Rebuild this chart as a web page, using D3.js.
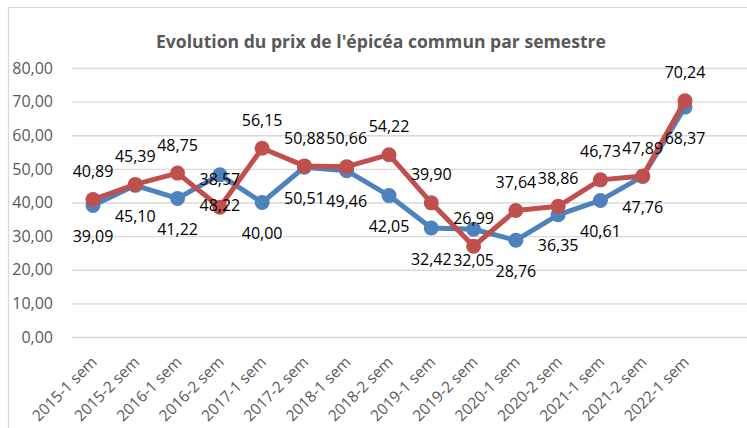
<!DOCTYPE html>
<html>
<head>
<meta charset="utf-8">
<script src="https://cdn.jsdelivr.net/npm/d3@7"></script>
<style>
    body { margin: 0; background: #fff; }
    text { font-family: "Open Sans", sans-serif; }
</style>
</head>
<body>
<div id="chart"></div>
<script>
// data
const categories = ["2015-1 sem", "2015-2 sem", "2016-1 sem", "2016-2 sem", "2017-1 sem",
    "2017-2 sem", "2018-1 sem", "2018-2 sem", "2019-1 sem", "2019-2 sem", "2020-1 sem",
    "2020-2 sem", "2021-1 sem", "2021-2 sem", "2022-1 sem"];
const blueValues = [39.09, 45.10, 41.22, 48.22, 40.00, 50.51, 49.46, 42.05, 32.42, 32.05,
    28.76, 36.35, 40.61, 47.76, 68.37];
const redValues = [40.89, 45.39, 48.75, 38.57, 56.15, 50.88, 50.66, 54.22, 39.90, 26.99,
    37.64, 38.86, 46.73, 47.89, 70.24];
const yTicks = [0, 10, 20, 30, 40, 50, 60, 70, 80];
const title = "Evolution du prix de l'épicéa commun par semestre";

const width = 747;
const height = 428;
const gridLeft = 72;
const gridRight = 747;

const fmt = v => v.toFixed(2).replace(".", ",");

const x = d3.scalePoint()
    .domain(categories)
    .range([93, 685]);

const y = d3.scaleLinear()
    .domain([0, 80])
    .range([337, 68]);

const svg = d3.select("#chart").append("svg")
    .attr("width", width)
    .attr("height", height);

// chart border
svg.append("rect")
    .attr("x", 8.5).attr("y", 7.5)
    .attr("width", width).attr("height", height)
    .attr("fill", "#fff")
    .attr("stroke", "#d9d9d9")
    .attr("stroke-width", 1.3);

svg.append("text")
    .attr("x", 381).attr("y", 48)
    .attr("text-anchor", "middle")
    .attr("font-size", 17.6)
    .attr("font-weight", "bold")
    .attr("fill", "#595959")
    .text(title);

// y axis: gridlines + labels
const yAxis = svg.append("g")
    .attr("transform", `translate(${gridLeft},0)`)
    .call(d3.axisLeft(y).tickValues(yTicks).tickSize(-(gridRight - gridLeft)).tickPadding(19).tickFormat(fmt));
yAxis.select(".domain").remove();
yAxis.selectAll(".tick line").attr("stroke", "#d9d9d9").attr("stroke-width", 1.3);
yAxis.selectAll(".tick text")
    .attr("font-family", "Open Sans, sans-serif")
    .attr("font-size", 16)
    .attr("fill", "#595959");

// x labels
svg.append("g")
    .selectAll("text")
    .data(categories)
    .join("text")
    .attr("transform", d => `translate(${x(d) + 5},363) rotate(-45)`)
    .attr("text-anchor", "end")
    .attr("font-size", 15.5)
    .attr("fill", "#595959")
    .text(d => d);

const line = d3.line()
    .x((d, i) => x(categories[i]))
    .y(d => y(d));

function drawSeries(values, color) {
    svg.append("path")
        .datum(values)
        .attr("d", line)
        .attr("fill", "none")
        .attr("stroke", color)
        .attr("stroke-width", 5)
        .attr("stroke-linejoin", "round");
    svg.append("g")
        .selectAll("circle")
        .data(values)
        .join("circle")
        .attr("cx", (d, i) => x(categories[i]))
        .attr("cy", d => y(d))
        .attr("r", 7.5)
        .attr("fill", color);
}

drawSeries(blueValues, "#4f81bd");
drawSeries(redValues, "#c0504d");

// data labels: blue below, red above
svg.append("g")
    .selectAll("text")
    .data(blueValues)
    .join("text")
    .attr("x", (d, i) => x(categories[i]))
    .attr("y", d => y(d) + 31)
    .attr("dy", "0.35em")
    .attr("text-anchor", "middle")
    .attr("font-size", 16)
    .attr("fill", "#000")
    .text(fmt);

svg.append("g")
    .selectAll("text")
    .data(redValues)
    .join("text")
    .attr("x", (d, i) => x(categories[i]))
    .attr("y", d => y(d) - 28)
    .attr("dy", "0.35em")
    .attr("text-anchor", "middle")
    .attr("font-size", 16)
    .attr("fill", "#000")
    .text(fmt);
</script>
</body>
</html>
